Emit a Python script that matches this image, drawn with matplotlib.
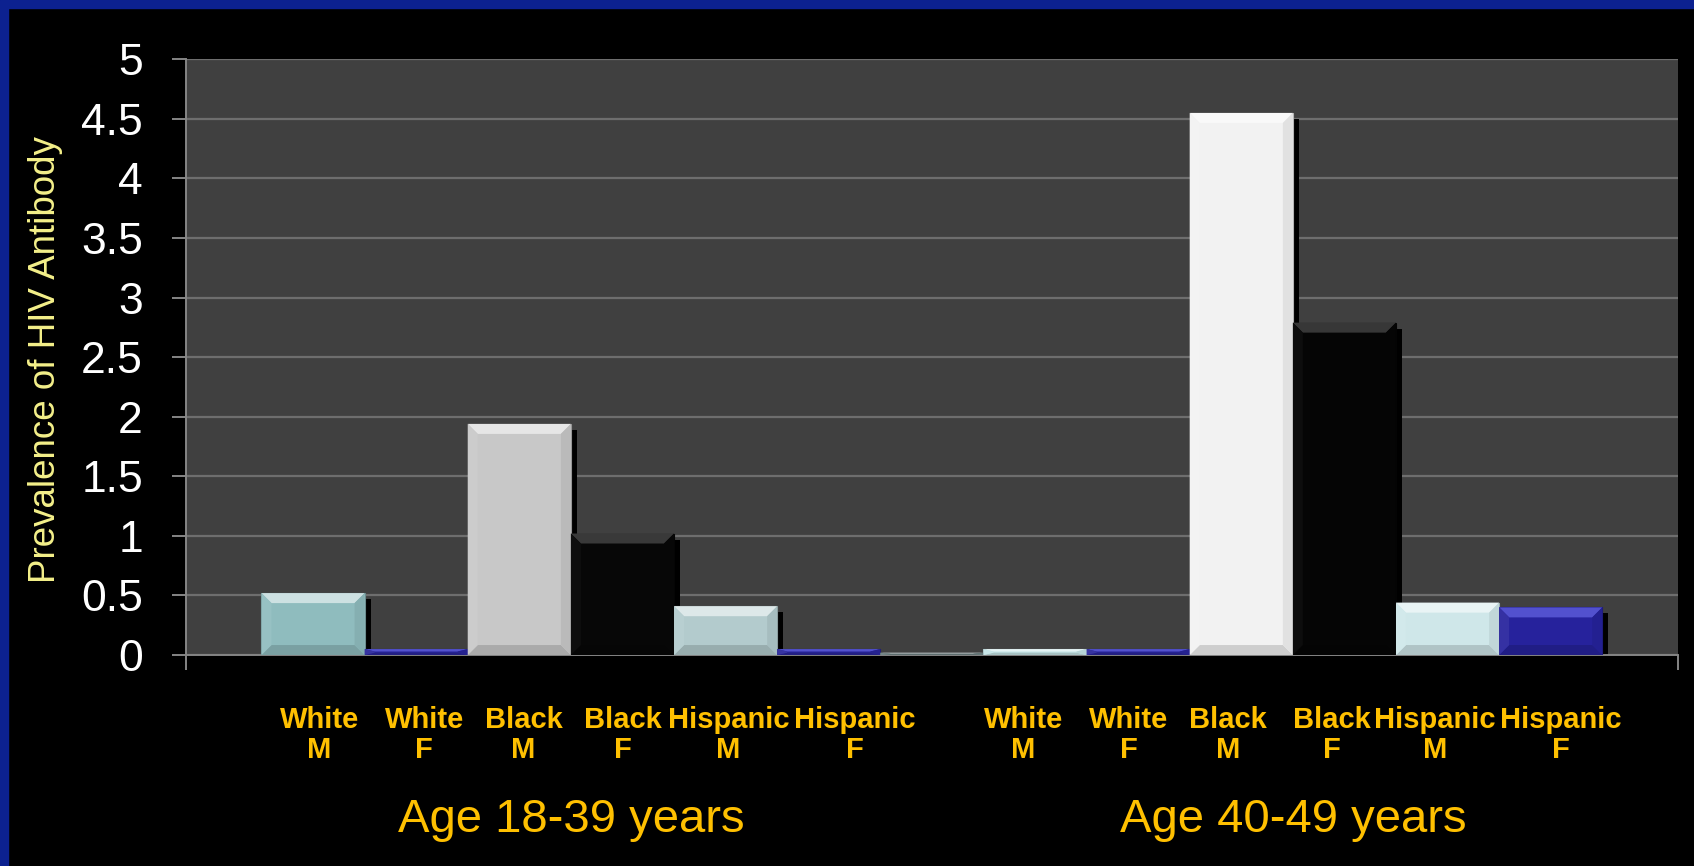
import matplotlib.pyplot as plt
from matplotlib.patches import Rectangle, Polygon
from matplotlib.colors import to_rgb
from matplotlib import transforms
import numpy as np

# values (prevalence %)
races = ['White', 'White', 'Black', 'Black', 'Hispanic', 'Hispanic', '',
         'White', 'White', 'Black', 'Black', 'Hispanic', 'Hispanic']
sexes = ['M', 'F', 'M', 'F', 'M', 'F', '',
         'M', 'F', 'M', 'F', 'M', 'F']
values = [0.52, 0.05, 1.94, 1.02, 0.41, 0.05, 0.02,
          0.05, 0.05, 4.55, 2.79, 0.44, 0.40]
groups = ['Age 18-39 years', 'Age 40-49 years']
group_members = [[0, 1, 2, 3, 4, 5], [7, 8, 9, 10, 11, 12]]
yticks = [0, 0.5, 1, 1.5, 2, 2.5, 3, 3.5, 4, 4.5, 5]

bar_colors = ['#8fbcbe', '#28259a', '#c8c8c8', '#070707', '#b3cbcd', '#28259a', '#6c7f80',
              '#c4e4e6', '#28259a', '#f2f2f2', '#050505', '#cfe7e9', '#26229c']
# small nudges of the category text, as placed on the slide
label_nudge = [0.06, 0.08, 0.04, 0.0, 0.03, 0.25, 0.0,
               -0.11, -0.09, -0.13, -0.12, -0.12, 0.10]

YELLOW = '#ffc000'
GRID = '#6e6e6e'
AXCOL = '#858585'


def mix(c, other, t):
    c = np.array(to_rgb(c))
    o = np.array(to_rgb(other))
    return tuple(c * (1 - t) + o * t)


fig = plt.figure(figsize=(16.94, 8.66), dpi=100, facecolor='black')
# blue slide frame on the left and top
fig.patches.append(Rectangle((0, 0), 8 / 1694, 1, transform=fig.transFigure,
                             color='#0c2190', zorder=0))
fig.patches.append(Rectangle((0, 1 - 8 / 866), 1, 8 / 866, transform=fig.transFigure,
                             color='#0c2190', zorder=0))

ax = fig.add_axes([0.1096, 0.2436, 0.881, 0.6879])
ax.set_facecolor('#404040')

n = len(values)
xs = np.arange(n)
ax.set_xlim(-0.5 - 0.735, n - 0.5 + 0.735)
ax.set_ylim(0, 5)

# pixel sizes in data units for shadow and bevel
px_x = (ax.get_xlim()[1] - ax.get_xlim()[0]) / (0.881 * 1694)
px_y = 5 / (0.6879 * 866)

# drop shadows first
for x, v in zip(xs, values):
    ax.add_patch(Rectangle((x - 0.5 + 6 * px_x, 0), 1, max(v - 6 * px_y, 0),
                           facecolor='black', edgecolor='none', zorder=2))

bars = ax.bar(xs, values, width=1.0, color=bar_colors, zorder=3,
              edgecolor=[mix(c, 'black', 0.25) for c in bar_colors], linewidth=0.8)

# bevel faces on each bar
for b, c in zip(bars, bar_colors):
    x0, x1 = b.get_x(), b.get_x() + b.get_width()
    h = b.get_height()
    bx = 10 * px_x
    by = min(10 * px_y, h * 0.4)
    r, g, bl = to_rgb(c)
    dark = r + g + bl < 0.2
    if dark:
        top_c = mix(c, 'white', 0.2)
    elif bl > 2 * r:
        top_c = mix(c, '#7070f0', 0.6)
    else:
        top_c = mix(c, 'white', 0.55)
    side = 0.03 if dark else 0.07
    faces = [
        ([(x0, h), (x1, h), (x1 - bx, h - by), (x0 + bx, h - by)], top_c),
        ([(x0, 0), (x1, 0), (x1 - bx, by), (x0 + bx, by)], mix(c, 'black', 0.15)),
        ([(x0, 0), (x0 + bx, by), (x0 + bx, h - by), (x0, h)], mix(c, 'white', side)),
        ([(x1, 0), (x1 - bx, by), (x1 - bx, h - by), (x1, h)], mix(c, 'black', side)),
    ]
    for pts, fc in faces:
        ax.add_patch(Polygon(pts, closed=True, facecolor=fc, edgecolor='none', zorder=4))

ax.set_yticks(yticks)
ax.set_yticklabels([f'{t:g}' for t in yticks])
ax.yaxis.grid(True, color=GRID, linewidth=1.6, zorder=1)
ax.set_axisbelow(True)
ax.tick_params(axis='y', colors=AXCOL, labelcolor='white', labelsize=32,
               length=9.8, width=1.4, pad=21)
for lab in ax.get_yticklabels():
    lab.set_fontfamily('Liberation Sans')

ax.set_xticks([ax.get_xlim()[0], ax.get_xlim()[1]])
ax.set_xticklabels([])
ax.tick_params(axis='x', colors=AXCOL, length=11, width=1.4)

for s in ['top', 'right']:
    ax.spines[s].set_visible(False)
for s in ['left', 'bottom']:
    ax.spines[s].set_color(AXCOL)
    ax.spines[s].set_linewidth(1.4)

trans = transforms.blended_transform_factory(ax.transData, ax.transAxes)
for x, r, s, dx in zip(xs, races, sexes, label_nudge):
    if not r:
        continue
    ax.text(x + dx, -0.1343, f'{r}\n{s}', transform=trans, ha='center', va='center',
            color=YELLOW, fontsize=21, fontweight='bold', family='Liberation Sans',
            linespacing=1.1)

for g, members in zip(groups, group_members):
    ax.text(np.mean(members), -0.2966, g, transform=trans, ha='center', va='baseline',
            color=YELLOW, fontsize=34, family='Liberation Sans')

fig.text(46 / 1694, 1 - 360 / 866, 'Prevalence of HIV Antibody', rotation=90,
         ha='center', va='center', color='#f4f08a', fontsize=26.5, family='Liberation Sans')

fig.savefig('out.png', dpi=100, facecolor='black')
